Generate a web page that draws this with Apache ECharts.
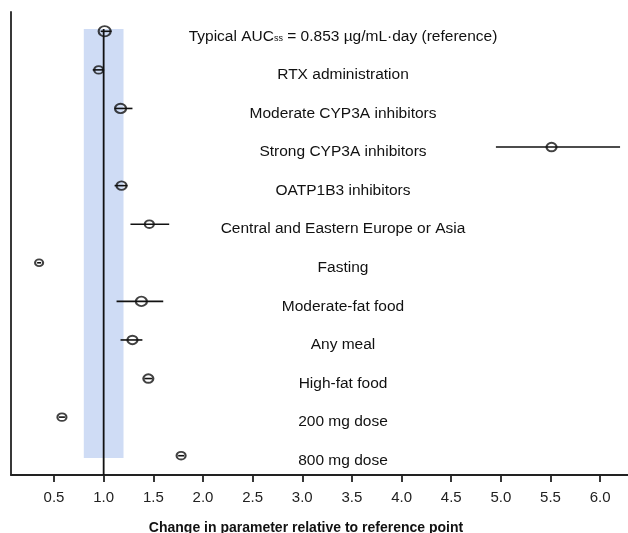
<!DOCTYPE html>
<html>
<head>
<meta charset="utf-8">
<script src="https://cdn.jsdelivr.net/npm/echarts@6/dist/echarts.min.js"></script>
<style>
  html, body { margin: 0; padding: 0; background: #fff; }
  #chart { width: 628px; height: 533px; }
</style>
</head>
<body>
<div id="chart"></div>
<script>
// covariate rows, top to bottom
const categories = [
  'Typical AUC{s|ss} = 0.853 µg/mL·day (reference)',
  'RTX administration',
  'Moderate CYP3A inhibitors',
  'Strong CYP3A inhibitors',
  'OATP1B3 inhibitors',
  'Central and Eastern Europe or Asia',
  'Fasting',
  'Moderate-fat food',
  'Any meal',
  'High-fat food',
  '200 mg dose',
  '800 mg dose'
];
// point estimate and interval (ratio to reference)
const estimate = [1.01, 0.95, 1.17, 5.51, 1.18, 1.46, 0.35, 1.38, 1.29, 1.45, 0.58, 1.78];
const lower    = [0.97, 0.89, 1.11, 4.95, 1.11, 1.27, 0.33, 1.13, 1.17, 1.41, 0.55, 1.75];
const upper    = [1.08, 1.00, 1.29, 6.20, 1.24, 1.66, 0.37, 1.60, 1.39, 1.49, 0.61, 1.81];
const markerSize = [12, 9, 11, 10, 10, 9, 8, 11, 10, 10, 9, 9];
const xTicks = [0.5, 1.0, 1.5, 2.0, 2.5, 3.0, 3.5, 4.0, 4.5, 5.0, 5.5, 6.0];
const rowIdx = categories.map((c, i) => i);

const chart = echarts.init(document.getElementById('chart'));
const font = 'Liberation Sans, Arial, Helvetica, sans-serif';

chart.setOption({
  animation: false,
  grid: { left: 11, right: 0, top: 12, bottom: 58, outerBoundsMode: 'none' },
  xAxis: {
    type: 'value',
    min: 0.067,
    max: 6.28,
    name: 'Change in parameter relative to reference point',
    nameLocation: 'middle',
    nameGap: 46,
    nameTextStyle: { fontFamily: font, fontSize: 14, fontWeight: 'bold', color: '#111', padding: [0, 27, 0, 0] },
    axisLine: { onZero: false, lineStyle: { color: '#222', width: 1.8 } },
    axisTick: { customValues: xTicks, length: 7, lineStyle: { color: '#222', width: 1.8 } },
    axisLabel: {
      customValues: xTicks,
      formatter: v => v.toFixed(1),
      fontFamily: font, fontSize: 15, color: '#222', margin: 15
    },
    splitLine: { show: false }
  },
  yAxis: {
    type: 'value',
    min: -0.5,
    max: 11.5,
    inverse: true,
    axisLine: { show: true, onZero: false, lineStyle: { color: '#222', width: 1.8 } },
    axisTick: { show: false },
    splitLine: { show: false },
    axisLabel: {
      customValues: rowIdx,
      formatter: v => categories[v],
      inside: true,
      margin: 332,
      align: 'center',
      fontFamily: font, fontSize: 15.5, color: '#111',
      padding: [10, 0, 0, 0],
      rich: {
        s: { fontFamily: font, fontSize: 9, color: '#111', padding: [4, 0, 0, 0] }
      }
    }
  },
  series: [
    {
      // reference line and tolerance band
      type: 'line',
      data: [[1, -0.06], [1, 11.5]],
      symbol: 'none',
      lineStyle: { color: '#111', width: 1.8 },
      z: 3,
      markArea: {
        silent: true,
        itemStyle: { color: '#cfdcf5' },
        data: [[{ xAxis: 0.8, yAxis: -0.06 }, { xAxis: 1.2, yAxis: 11.06 }]]
      }
    },
    {
      type: 'custom',
      z: 5,
      data: rowIdx.map(i => [lower[i], upper[i], i]),
      renderItem: (params, api) => {
        const a = api.coord([api.value(0), api.value(2)]);
        const b = api.coord([api.value(1), api.value(2)]);
        return {
          type: 'line',
          shape: { x1: a[0], y1: a[1], x2: b[0], y2: b[1] },
          style: { stroke: '#111', lineWidth: 1.6 }
        };
      }
    },
    {
      type: 'scatter',
      z: 6,
      data: rowIdx.map(i => ({ value: [estimate[i], i], symbolSize: [markerSize[i], markerSize[i] * 0.85] })),
      symbol: 'circle',
      itemStyle: { color: 'rgba(0,0,0,0)', borderColor: '#111', borderWidth: 2 }
    }
  ]
});
</script>
</body>
</html>
